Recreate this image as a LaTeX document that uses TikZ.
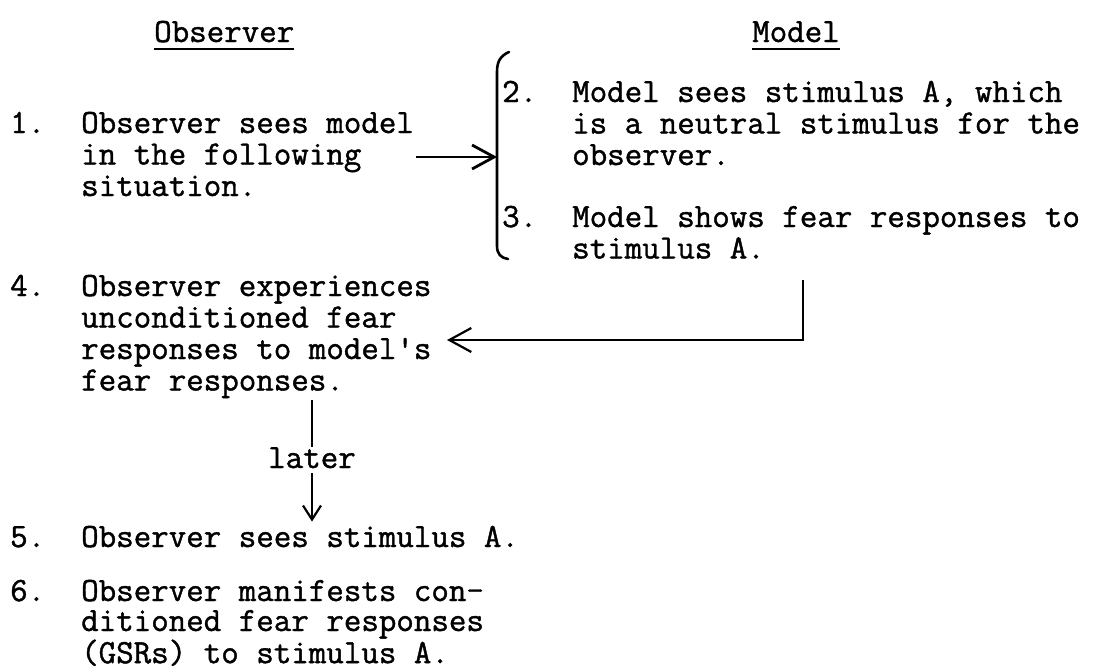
\documentclass[tikz,border=0pt]{standalone}
\usepackage{fontspec}
\newfontfamily\twr{Latin Modern Mono}[FakeBold=1.2]
\usetikzlibrary{arrows.meta}
\begin{document}
\begin{tikzpicture}[x=1pt,y=-1pt,
  txt/.style={font=\fontsize{34}{31.5}\selectfont\twr, inner sep=0pt, anchor=base west},
  ul/.style={line width=1.8pt},
  conn/.style={line width=2.2pt},
  barb/.style={-{Straight Barb[length=22pt,width=24pt]}},
  smallbarb/.style={-{Straight Barb[length=14pt,width=18pt]}},
]
\fill[white] (0,0) rectangle (1096,672);
\useasboundingbox (0,0) rectangle (1096,672);

% headings
\node[txt] (hobs) at (154,42) {Observer};
\node[txt] (hmod) at (752,42) {Model};
\draw[ul] ([yshift=-7pt]hobs.base west) -- ([yshift=-7pt]hobs.base east);
\draw[ul] ([yshift=-7pt]hmod.base west) -- ([yshift=-7pt]hmod.base east);

% items
\node[txt] (n1) at (10,133) {1.};
\node[txt] (item1) at (81,133) {\vtop{\hbox{Observer sees model}\hbox{in the following}\hbox{situation.}}};
\node[txt] (n2) at (502,102) {2.};
\node[txt] (item2) at (572,102) {\vtop{\hbox{Model sees stimulus A, which}\hbox{is a neutral stimulus for the}\hbox{observer.}}};
\node[txt] (n3) at (502,227) {3.};
\node[txt] (item3) at (572,227) {\vtop{\hbox{Model shows fear responses to}\hbox{stimulus A.}}};
\node[txt] (n4) at (10,296) {4.};
\node[txt] (item4) at (81,296) {\vtop{\hbox{Observer experiences}\hbox{unconditioned fear}\hbox{responses to model\textquotesingle s}\hbox{fear responses.}}};
\node[txt, anchor=base] (later) at (312,468) {later};
\node[txt] (n5) at (10,547) {5.};
\node[txt] (item5) at (81,547) {Observer sees stimulus A.};
\node[txt] (n6) at (10,601) {6.};
\node[txt] (item6) at (81,601) {\baselineskip=30pt\vtop{\hbox{Observer manifests con-}\hbox{ditioned fear responses}\hbox{(GSRs) to stimulus A.}}};

% bracket
\draw[line width=2.6pt, line cap=round] (509,52) .. controls (500,56) and (497,62) .. (497,72) -- (497,246) .. controls (497,254) and (501,258) .. (508,259);
\coordinate (brk) at (497,157);
\draw[line width=2.8pt, barb, shorten <=2pt] (item1.east |- brk) -- (brk);

% 3 -> 4
\coordinate (c3) at (803,280);
\coordinate (t4) at (447,340);
\draw[conn, barb] (c3) |- (t4);

% 4 -> 5
\draw[conn, shorten <=2pt] (item4.south -| later) -- (later.north);
\draw[conn, smallbarb, shorten >=4pt] ([yshift=-5pt]later.south) -- (later |- item5.north);
\end{tikzpicture}
\end{document}
